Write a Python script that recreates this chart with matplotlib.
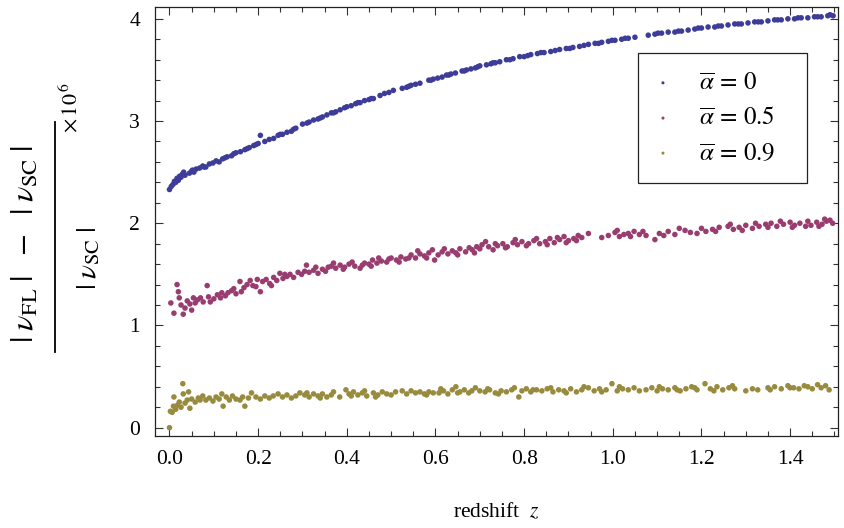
import matplotlib
matplotlib.use("Agg")
import matplotlib.pyplot as plt
from matplotlib.lines import Line2D
from matplotlib.ticker import MultipleLocator, FormatStrFormatter

plt.rcParams['font.family'] = ['Liberation Serif', 'DejaVu Serif']
plt.rcParams['mathtext.fontset'] = 'stix'

# ---------------- data ----------------
z_a0 = [0.000, 0.004, 0.008, 0.011, 0.014, 0.017, 0.020, 0.023, 0.026, 0.029,
        0.032, 0.035, 0.045, 0.050, 0.055, 0.060, 0.068, 0.075, 0.082, 0.090,
        0.098, 0.105, 0.112, 0.120, 0.130, 0.140, 0.150, 0.160, 0.170, 0.180,
        0.190, 0.200, 0.205, 0.215, 0.225, 0.235, 0.245, 0.255, 0.265, 0.275,
        0.285, 0.300, 0.315, 0.325, 0.335, 0.345, 0.355, 0.365, 0.375, 0.385,
        0.395, 0.410, 0.420, 0.430, 0.440, 0.450, 0.460, 0.475, 0.495, 0.505,
        0.525, 0.535, 0.545, 0.555, 0.565, 0.585, 0.595, 0.605, 0.615, 0.625,
        0.635, 0.645, 0.660, 0.670, 0.680, 0.690, 0.700, 0.715, 0.725, 0.735,
        0.745, 0.760, 0.775, 0.790, 0.800, 0.815, 0.830, 0.845, 0.860, 0.880,
        0.895, 0.910, 0.925, 0.945, 0.960, 0.975, 0.990, 1.005, 1.020, 1.035,
        1.050, 1.080, 1.095, 1.110, 1.125, 1.140, 1.155, 1.170, 1.185, 1.200,
        1.215, 1.230, 1.245, 1.260, 1.275, 1.290, 1.305, 1.320, 1.335, 1.350,
        1.365, 1.380, 1.395, 1.410, 1.425, 1.440, 1.455, 1.470, 1.485, 1.497,
        0.052, 0.078, 0.125, 0.145, 0.175, 0.195, 0.250, 0.280, 0.310, 0.340,
        0.370, 0.400, 0.425, 0.455, 0.485, 0.540, 0.590, 0.630, 0.665, 0.695,
        0.730, 0.768, 0.808, 0.838, 0.870, 0.903, 0.935, 0.968, 0.998, 1.028,
        1.102, 1.148, 1.193, 1.238, 1.283, 1.328, 1.372, 1.418, 1.462, 1.490]
y_a0 = [2.33, 2.36, 2.38, 2.41, 2.40, 2.44, 2.42, 2.46, 2.45, 2.48,
        2.50, 2.47, 2.49, 2.51, 2.50, 2.53, 2.54, 2.56, 2.55, 2.58,
        2.59, 2.61, 2.60, 2.63, 2.65, 2.66, 2.69, 2.70, 2.72, 2.74,
        2.76, 2.78, 2.86, 2.80, 2.82, 2.83, 2.86, 2.87, 2.89, 2.90,
        2.93, 2.97, 2.99, 3.01, 3.02, 3.04, 3.06, 3.08, 3.09, 3.11,
        3.13, 3.15, 3.17, 3.18, 3.20, 3.21, 3.22, 3.25, 3.28, 3.30,
        3.32, 3.33, 3.35, 3.36, 3.37, 3.40, 3.41, 3.42, 3.43, 3.45,
        3.46, 3.47, 3.49, 3.50, 3.51, 3.52, 3.54, 3.55, 3.56, 3.57,
        3.58, 3.60, 3.61, 3.63, 3.63, 3.65, 3.66, 3.67, 3.68, 3.70,
        3.71, 3.72, 3.73, 3.75, 3.76, 3.77, 3.78, 3.79, 3.80, 3.81,
        3.82, 3.84, 3.85, 3.86, 3.87, 3.87, 3.88, 3.89, 3.90, 3.91,
        3.92, 3.92, 3.93, 3.94, 3.95, 3.95, 3.96, 3.97, 3.97, 3.98,
        3.99, 3.99, 4.00, 4.00, 4.01, 4.01, 4.02, 4.02, 4.03, 4.03,
        2.52, 2.55, 2.64, 2.68, 2.73, 2.77, 2.87, 2.92, 2.98, 3.03,
        3.08, 3.14, 3.18, 3.22, 3.27, 3.34, 3.40, 3.45, 3.49, 3.53,
        3.57, 3.60, 3.64, 3.67, 3.69, 3.71, 3.74, 3.76, 3.79, 3.81,
        3.86, 3.88, 3.91, 3.93, 3.95, 3.97, 3.99, 4.01, 4.02, 4.04]

z_a5 = [0.003, 0.010, 0.017, 0.020, 0.022, 0.026, 0.031, 0.035, 0.040, 0.046,
        0.050, 0.054, 0.058, 0.063, 0.070, 0.076, 0.085, 0.088, 0.092, 0.100,
        0.108, 0.118, 0.126, 0.132, 0.140, 0.150, 0.159, 0.162, 0.168, 0.175,
        0.182, 0.188, 0.195, 0.205, 0.210, 0.218, 0.226, 0.235, 0.242, 0.249,
        0.256, 0.265, 0.272, 0.280, 0.290, 0.298, 0.309, 0.315, 0.325, 0.335,
        0.345, 0.358, 0.365, 0.375, 0.385, 0.395, 0.405, 0.418, 0.430, 0.440,
        0.450, 0.458, 0.468, 0.478, 0.490, 0.500, 0.512, 0.522, 0.533, 0.545,
        0.555, 0.565, 0.575, 0.585, 0.593, 0.598, 0.606, 0.615, 0.628, 0.638,
        0.646, 0.655, 0.668, 0.676, 0.683, 0.693, 0.700, 0.713, 0.720, 0.730,
        0.740, 0.752, 0.762, 0.775, 0.785, 0.795, 0.810, 0.822, 0.835, 0.848,
        0.858, 0.868, 0.880, 0.890, 0.900, 0.912, 0.922, 0.945, 0.975, 0.990,
        1.005, 1.015, 1.025, 1.035, 1.048, 1.060, 1.075, 1.095, 1.105, 1.125,
        1.140, 1.163, 1.175, 1.200, 1.210, 1.225, 1.240, 1.260, 1.272, 1.285,
        1.300, 1.315, 1.330, 1.345, 1.357, 1.370, 1.385, 1.400, 1.410, 1.422,
        1.435, 1.447, 1.460, 1.472, 1.482, 1.490, 1.496,
        0.115, 0.145, 0.198, 0.230, 0.260, 0.305, 0.330, 0.352, 0.370, 0.392,
        0.412, 0.435, 0.455, 0.472, 0.495, 0.518, 0.540, 0.560, 0.580, 0.620,
        0.650, 0.688, 0.705, 0.735, 0.758, 0.780, 0.805, 0.828, 0.852, 0.875,
        0.895, 0.918, 0.930, 1.010, 1.040, 1.068, 1.115, 1.150, 1.190, 1.232,
        1.265, 1.292, 1.322, 1.350, 1.378, 1.405, 1.440, 1.465, 1.478]
y_a5 = [1.22, 1.12, 1.40, 1.33, 1.27, 1.20, 1.11, 1.17, 1.24, 1.21,
        1.15, 1.27, 1.22, 1.25, 1.27, 1.23, 1.39, 1.28, 1.23, 1.26,
        1.30, 1.32, 1.29, 1.32, 1.34, 1.31, 1.43, 1.33, 1.37, 1.40,
        1.44, 1.39, 1.38, 1.33, 1.43, 1.45, 1.41, 1.47, 1.44, 1.51,
        1.46, 1.48, 1.50, 1.47, 1.52, 1.50, 1.59, 1.52, 1.54, 1.51,
        1.55, 1.57, 1.58, 1.56, 1.59, 1.57, 1.60, 1.58, 1.56, 1.61,
        1.60, 1.64, 1.61, 1.63, 1.62, 1.66, 1.64, 1.67, 1.65, 1.69,
        1.66, 1.70, 1.68, 1.71, 1.74, 1.64, 1.69, 1.72, 1.70, 1.73,
        1.71, 1.75, 1.72, 1.76, 1.74, 1.77, 1.75, 1.82, 1.77, 1.74,
        1.78, 1.80, 1.77, 1.81, 1.79, 1.82, 1.80, 1.83, 1.80, 1.82,
        1.85, 1.81, 1.84, 1.87, 1.83, 1.85, 1.88, 1.90, 1.86, 1.88,
        1.91, 1.87, 1.89, 1.90, 1.92, 1.89, 1.88, 1.84, 1.90, 1.92,
        1.89, 1.93, 1.91, 1.95, 1.92, 1.94, 1.96, 1.97, 1.94, 1.96,
        1.98, 1.95, 1.97, 1.99, 2.00, 1.97, 1.99, 2.01, 1.98, 2.00,
        1.97, 1.98, 2.01, 1.99, 2.02, 2.03, 2.00,
        1.27, 1.36, 1.45, 1.39, 1.50, 1.53, 1.57, 1.53, 1.61, 1.55,
        1.62, 1.59, 1.58, 1.66, 1.65, 1.62, 1.66, 1.73, 1.66, 1.75,
        1.69, 1.71, 1.79, 1.80, 1.76, 1.84, 1.78, 1.85, 1.79, 1.86,
        1.81, 1.83, 1.86, 1.93, 1.87, 1.92, 1.88, 1.95, 1.90, 1.92,
        1.99, 1.93, 2.00, 1.96, 2.02, 1.96, 2.02, 1.97, 2.04]

z_a9 = [0.000, 0.002, 0.006, 0.009, 0.010, 0.014, 0.018, 0.022, 0.026, 0.030,
        0.031, 0.035, 0.040, 0.043, 0.046, 0.050, 0.058, 0.065, 0.069, 0.075,
        0.082, 0.090, 0.098, 0.105, 0.112, 0.118, 0.121, 0.128, 0.135, 0.142,
        0.150, 0.159, 0.165, 0.170, 0.178, 0.185, 0.195, 0.205, 0.215, 0.225,
        0.234, 0.245, 0.255, 0.265, 0.275, 0.285, 0.294, 0.305, 0.315, 0.325,
        0.335, 0.345, 0.355, 0.365, 0.384, 0.398, 0.405, 0.415, 0.425, 0.435,
        0.445, 0.460, 0.470, 0.480, 0.490, 0.500, 0.525, 0.535, 0.555, 0.565,
        0.575, 0.585, 0.595, 0.608, 0.618, 0.628, 0.638, 0.646, 0.655, 0.665,
        0.675, 0.690, 0.700, 0.712, 0.722, 0.735, 0.748, 0.760, 0.772, 0.788,
        0.795, 0.805, 0.815, 0.828, 0.840, 0.852, 0.865, 0.878, 0.890, 0.905,
        0.918, 0.930, 0.945, 0.958, 0.970, 0.985, 0.998, 1.010, 1.022, 1.035,
        1.048, 1.075, 1.088, 1.100, 1.112, 1.125, 1.140, 1.152, 1.165, 1.178,
        1.190, 1.208, 1.220, 1.235, 1.248, 1.262, 1.275, 1.300, 1.327, 1.350,
        1.365, 1.380, 1.395, 1.408, 1.420, 1.440, 1.462, 1.470, 1.488,
        0.310, 0.340, 0.370, 0.410, 0.440, 0.465, 0.510, 0.545, 0.580, 0.612,
        0.650, 0.682, 0.718, 0.742, 0.778, 0.820, 0.860, 0.895, 0.935, 0.975,
        1.015, 1.060, 1.105, 1.145, 1.185, 1.228, 1.270, 1.315, 1.355, 1.400,
        1.432, 1.450, 1.480]
y_a9 = [0.00, 0.16, 0.15, 0.21, 0.30, 0.18, 0.22, 0.25, 0.20, 0.43,
        0.33, 0.24, 0.27, 0.35, 0.19, 0.28, 0.25, 0.29, 0.27, 0.31,
        0.27, 0.29, 0.26, 0.30, 0.28, 0.33, 0.21, 0.30, 0.27, 0.31,
        0.28, 0.27, 0.30, 0.21, 0.29, 0.34, 0.30, 0.28, 0.31, 0.29,
        0.31, 0.33, 0.30, 0.32, 0.29, 0.31, 0.34, 0.32, 0.30, 0.33,
        0.31, 0.33, 0.30, 0.32, 0.30, 0.37, 0.33, 0.35, 0.32, 0.34,
        0.31, 0.34, 0.32, 0.35, 0.33, 0.32, 0.36, 0.33, 0.34, 0.35,
        0.33, 0.35, 0.34, 0.34, 0.36, 0.33, 0.37, 0.40, 0.35, 0.37,
        0.34, 0.39, 0.36, 0.35, 0.37, 0.34, 0.36, 0.35, 0.37, 0.30,
        0.36, 0.38, 0.35, 0.37, 0.36, 0.38, 0.35, 0.37, 0.36, 0.38,
        0.35, 0.37, 0.39, 0.36, 0.38, 0.37, 0.43, 0.36, 0.38, 0.37,
        0.39, 0.37, 0.39, 0.36, 0.38, 0.37, 0.39, 0.36, 0.38, 0.40,
        0.37, 0.43, 0.38, 0.40, 0.37, 0.39, 0.38, 0.36, 0.37, 0.39,
        0.40, 0.38, 0.41, 0.39, 0.38, 0.40, 0.42, 0.39, 0.37,
        0.34, 0.29, 0.35, 0.31, 0.36, 0.30, 0.35, 0.36, 0.32, 0.38,
        0.34, 0.36, 0.38, 0.33, 0.39, 0.37, 0.39, 0.34, 0.40, 0.35,
        0.40, 0.36, 0.40, 0.37, 0.39, 0.36, 0.41, 0.38, 0.37, 0.39,
        0.41, 0.38, 0.41]

labels = [r'$\overline{\alpha}\,=\,0$', r'$\overline{\alpha}\,=\,0.5$',
          r'$\overline{\alpha}\,=\,0.9$']
colors = ['#3d3d99', '#993d71', '#998b3d']
x_ticks = [0.0, 0.2, 0.4, 0.6, 0.8, 1.0, 1.2, 1.4]
y_ticks = [0, 1, 2, 3, 4]

# ---------------- figure ----------------
fig = plt.figure(figsize=(8.45, 5.28), dpi=100)
ax = fig.add_axes([0.1838, 0.1742, 0.8079, 0.8120])

series = [(z_a0, y_a0), (z_a5, y_a5), (z_a9, y_a9)]
for (zz, yy), lab, col in zip(series, labels, colors):
    ax.scatter(zz, yy, s=16, color=col, edgecolors='none', label=lab, zorder=3)

ax.set_xlim(-0.032, 1.508)
ax.set_ylim(-0.082, 4.113)
ax.set_xticks(x_ticks)
ax.set_yticks(y_ticks)
ax.xaxis.set_major_formatter(FormatStrFormatter('%.1f'))
ax.xaxis.set_minor_locator(MultipleLocator(0.05))
ax.yaxis.set_minor_locator(MultipleLocator(0.2))
ax.tick_params(which='both', direction='in', top=True, right=True,
               color='#333333', width=0.8)
ax.tick_params(which='major', length=6, labelsize=15.5)
ax.tick_params(axis='x', which='major', pad=10)
ax.tick_params(axis='y', which='major', pad=11)
ax.tick_params(which='minor', length=3.5)
for sp in ax.spines.values():
    sp.set_linewidth(0.9)
    sp.set_color('#222222')

ax.set_xlabel(r'redshift  $z$', fontsize=15.5, labelpad=24)

leg = ax.legend(loc='upper left', bbox_to_anchor=(0.707, 0.5995, 0.248, 0.2935),
                mode='expand', borderaxespad=0, fancybox=False, framealpha=1,
                edgecolor='#222222', fontsize=18, markerscale=0.55,
                handletextpad=1.2, labelspacing=0.5, borderpad=0.75,
                handlelength=0.5, scatterpoints=1)
leg.get_frame().set_linewidth(0.9)

# y label built as a fraction
W, H = 845.0, 528.0
def fx(px):
    return px / W
def fy(py):
    return 1 - py / H

fig.text(fx(26), fy(244), r'$|\;\nu_{\rm FL}\;|\ \;\:-\ \;\:|\;\nu_{\rm SC}\;|$',
         rotation=90, ha='center', va='center', fontsize=23)
fig.text(fx(89), fy(258), r'$|\;\nu_{\rm SC}\;|$',
         rotation=90, ha='center', va='center', fontsize=21)
fig.add_artist(Line2D([fx(54.5), fx(54.5)], [fy(122), fy(352)],
                      color='black', linewidth=1.3))
fig.text(fx(71), fy(108), r'$\times\,10^{\,6}$',
         rotation=90, ha='center', va='center', fontsize=16)

fig.savefig('out.png', dpi=100)
